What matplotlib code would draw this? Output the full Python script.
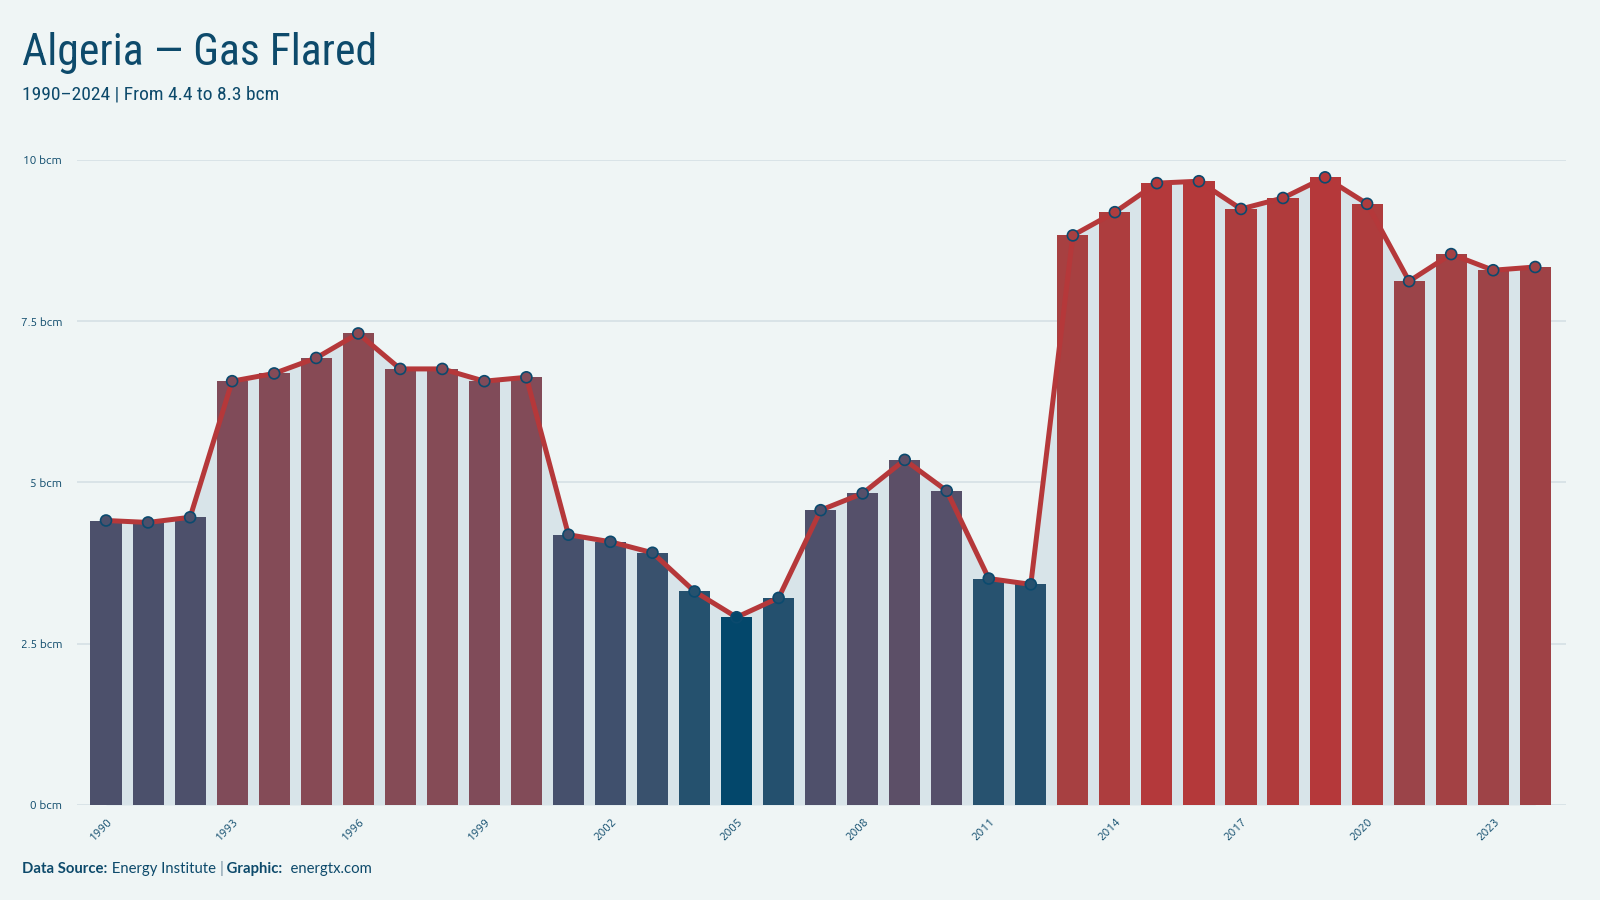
import numpy as np
import matplotlib
matplotlib.use("Agg")
from matplotlib import pyplot as plt
from matplotlib.colors import LinearSegmentedColormap, Normalize

# gas flared, Algeria (bcm)
years = list(range(1990, 2025))
flared = [4.41, 4.38, 4.46, 6.57, 6.69, 6.93, 7.31, 6.76, 6.76, 6.57,
          6.63, 4.19, 4.08, 3.91, 3.31, 2.91, 3.21, 4.57, 4.83, 5.35,
          4.87, 3.51, 3.42, 8.83, 9.19, 9.64, 9.67, 9.24, 9.41, 9.73,
          9.32, 8.12, 8.54, 8.29, 8.34]
yticks = [0, 2.5, 5, 7.5, 10]
ytick_labels = ['0 bcm', '2.5 bcm', '5 bcm', '7.5 bcm', '10 bcm']
xtick_years = list(range(1990, 2025, 3))

BG = '#eff5f5'
INK = '#0d4a6b'
FILL = '#d8e4e9'
LINE = '#b5383a'

# blue -> red colour ramp by value
cmap = LinearSegmentedColormap.from_list('flare', [
    (0.00, '#03476b'),
    (0.04, '#24506e'),
    (0.09, '#27526f'),
    (0.19, '#47506c'),
    (0.28, '#55506a'),
    (0.45, '#654d63'),
    (0.55, '#844b57'),
    (0.68, '#8e4850'),
    (0.80, '#a04246'),
    (0.88, '#a84040'),
    (1.00, '#b5383a'),
])
norm = Normalize(vmin=min(flared), vmax=max(flared))
colors = [cmap(norm(v)) for v in flared]

TITLE_FONT = ['Roboto Condensed', 'DejaVu Sans']
BODY_FONT = ['Ubuntu', 'Lato', 'DejaVu Sans']
FOOT_FONT = ['Lato', 'DejaVu Sans']


def drawChart():
    fig = plt.figure(figsize=(16, 9), dpi=100, facecolor=BG)
    ax = fig.add_axes([0.0484, 0.1056, 0.9303, 0.7167])
    ax.set_facecolor(BG)

    for y in yticks:
        ax.axhline(y, color='#d5e0e5', lw=1.2, zorder=0)

    ax.fill_between(years, flared, 0, color=FILL, lw=0, zorder=1)
    ax.bar(years, flared, width=0.74, color=colors, zorder=2)
    ax.plot(years, flared, color=LINE, lw=3.6, zorder=3, solid_joinstyle='round')
    ax.scatter(years, flared, s=62, c=colors, edgecolors='#0b4a6e',
               linewidths=1.2, zorder=4, clip_on=False)

    ax.set_xlim(1990 - 0.68, 2024 + 0.73)
    ax.set_ylim(0, 10)
    for s in ax.spines.values():
        s.set_visible(False)
    ax.set_yticks(yticks)
    ax.set_yticklabels(ytick_labels, fontsize=8.5, color=INK, family=BODY_FONT)
    ax.set_xticks(xtick_years)
    ax.set_xticklabels([str(y) for y in xtick_years], fontsize=8.5, color=INK,
                       rotation=45, ha='right', rotation_mode='anchor',
                       family=BODY_FONT)
    ax.tick_params(axis='both', length=0)
    ax.tick_params(axis='y', pad=11)
    ax.tick_params(axis='x', pad=8)

    fig.text(0.014, 0.928, 'Algeria \u2014 Gas Flared', fontsize=31.5, color=INK,
             family=TITLE_FONT, va='baseline')
    fig.text(0.014, 0.889, '1990\u20132024 | From 4.4 to 8.3 bcm', fontsize=14,
             color=INK, family=TITLE_FONT, va='baseline')

    # footer, pieces chained one after another
    t = fig.text(0.014, 0.0305, 'Data Source:', fontsize=10.7, color=INK,
                 weight='bold', family=FOOT_FONT, va='baseline')
    parts = [(' Energy Institute ', 'normal', INK),
             ('|', 'bold', '#8fa5b3'),
             (' Graphic:', 'bold', INK),
             ('  energtx.com', 'normal', INK)]
    for txt, w, c in parts:
        t = ax.annotate(txt, xy=(1, 0), xycoords=t, fontsize=10.7, color=c,
                        weight=w, family=FOOT_FONT, va='bottom', ha='left',
                        annotation_clip=False)

    plt.savefig('out.png', dpi=100, facecolor=BG)


if __name__ == "__main__":
    drawChart()
